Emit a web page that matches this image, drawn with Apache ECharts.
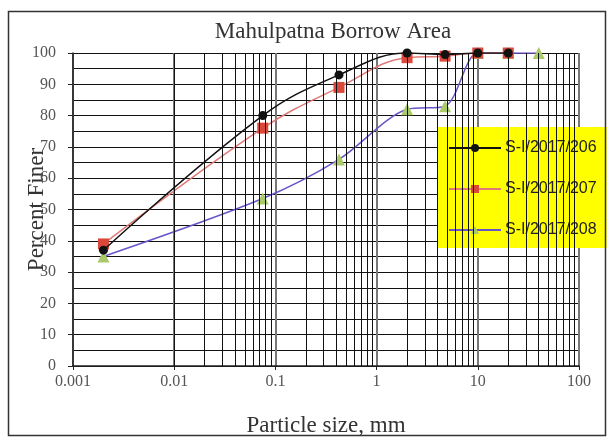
<!DOCTYPE html>
<html>
<head>
<meta charset="utf-8">
<script src="https://cdn.jsdelivr.net/npm/echarts@6/dist/echarts.min.js"></script>
<style>html,body{margin:0;padding:0;background:#fff;}#c{width:609px;height:437px;}</style>
</head>
<body>
<div id="c"></div>
<script>
const sizes206 = [0.002, 0.075, 0.425, 2, 4.75, 10, 20];
const finer206 = [37, 80, 93, 100, 99.5, 100, 100];
const sizes207 = [0.002, 0.075, 0.425, 2, 4.75, 10, 20];
const finer207 = [39, 76, 89, 98.5, 99, 100, 100];
const sizes208 = [0.002, 0.075, 0.425, 2, 4.75, 10, 20, 40];
const finer208 = [35, 53.5, 66, 82, 83, 100, 100, 100];
const xTicks = [0.001, 0.01, 0.1, 1, 10, 100];
const minorGrid = [];
for (let d = 0; d < 5; d++) {
  for (let k = 2; k <= 9; k++) minorGrid.push(+(k * Math.pow(10, d - 3)).toPrecision(3));
}

const chart = echarts.init(document.getElementById('c'));
const serif = '"Liberation Serif", "DejaVu Serif", serif';
const sans = '"Liberation Sans", Arial, sans-serif';
function pairs(xs, ys) { return xs.map((x, i) => [x, ys[i]]); }

chart.setOption({
  animation: false,
  backgroundColor: '#fff',
  graphic: [{
    type: 'rect', shape: { x: 8.5, y: 11.5, width: 597, height: 424 },
    style: { fill: 'none', stroke: '#333', lineWidth: 1.5 }, z: 100, silent: true
  }],
  title: {
    text: 'Mahulpatna Borrow Area', left: 328, top: 15, textAlign: 'center',
    textStyle: { fontFamily: serif, fontSize: 23, fontWeight: 'normal', color: '#333' }
  },
  legend: {
    orient: 'vertical', left: 438, top: 127,
    backgroundColor: '#ffff00', padding: [13, 10, 10, 10], itemGap: 25,
    itemWidth: 52, itemHeight: 10, borderRadius: 0,
    textStyle: { fontFamily: sans, fontSize: 16, color: '#222', padding: [0, 0, 0, -1] },
    data: ['S-I/2017/206', 'S-I/2017/207', 'S-I/2017/208']
  },
  grid: { left: 73, right: 30, top: 53, bottom: 71, containLabel: false, outerBoundsMode: 'none' },
  xAxis: {
    type: 'log', logBase: 10, min: 0.001, max: 100,
    name: 'Particle size, mm', nameLocation: 'middle', nameGap: 48, nameMoveOverlap: false,
    nameTextStyle: { fontFamily: serif, fontSize: 23, color: '#333' },
    axisLine: { show: true, lineStyle: { color: '#222', width: 1.5 } },
    axisTick: { show: true, length: 4, lineStyle: { color: '#222' } },
    axisLabel: {
      fontFamily: serif, fontSize: 16, color: '#555', margin: 8,
      formatter: v => { const m = xTicks.find(t => Math.abs(Math.log10(t) - Math.log10(v)) < 1e-6); return m === undefined ? '' : String(m); }
    },
    splitLine: { show: true, lineStyle: { color: '#777', width: 2 } }
  },
  yAxis: {
    type: 'value', min: 0, max: 100, interval: 10,
    name: 'Percent Finer', nameLocation: 'middle', nameGap: 25, nameMoveOverlap: false,
    nameTextStyle: { fontFamily: serif, fontSize: 23, color: '#333' },
    axisLine: { show: true, lineStyle: { color: '#222', width: 1.5 } },
    axisTick: { show: true, length: 5, lineStyle: { color: '#222' } },
    axisLabel: { fontFamily: serif, fontSize: 16, color: '#555', margin: 17 },
    splitLine: { show: true, lineStyle: { color: '#111', width: 1 } },
    minorTick: { show: false, splitNumber: 2 },
    minorSplitLine: { show: true, lineStyle: { color: '#111', width: 1 } }
  },
  series: [
    {
      name: 'grid', type: 'line', data: [], silent: true, z: 1,
      markLine: {
        silent: true, symbol: 'none', label: { show: false },
        lineStyle: { color: '#111', width: 1, type: 'solid' },
        emphasis: { disabled: true },
        data: minorGrid.map(v => ({ xAxis: v }))
      }
    },
    {
      name: 'S-I/2017/208', type: 'line', smooth: 0.3, z: 3,
      data: pairs(sizes208, finer208),
      symbol: 'triangle', symbolSize: 12,
      lineStyle: { color: '#6a55c8', width: 1.5 },
      itemStyle: { color: '#a9c96a' }
    },
    {
      name: 'S-I/2017/207', type: 'line', smooth: 0.4, z: 4,
      data: pairs(sizes207, finer207),
      symbol: 'rect', symbolSize: 11,
      lineStyle: { color: '#e07a78', width: 1.5 },
      itemStyle: { color: '#d9483b' }
    },
    {
      name: 'S-I/2017/206', type: 'line', smooth: 0.4, z: 5,
      data: pairs(sizes206, finer206),
      symbol: 'circle', symbolSize: 9,
      lineStyle: { color: '#111', width: 1.5 },
      itemStyle: { color: '#111' }
    }
  ]
});
</script>
</body>
</html>
